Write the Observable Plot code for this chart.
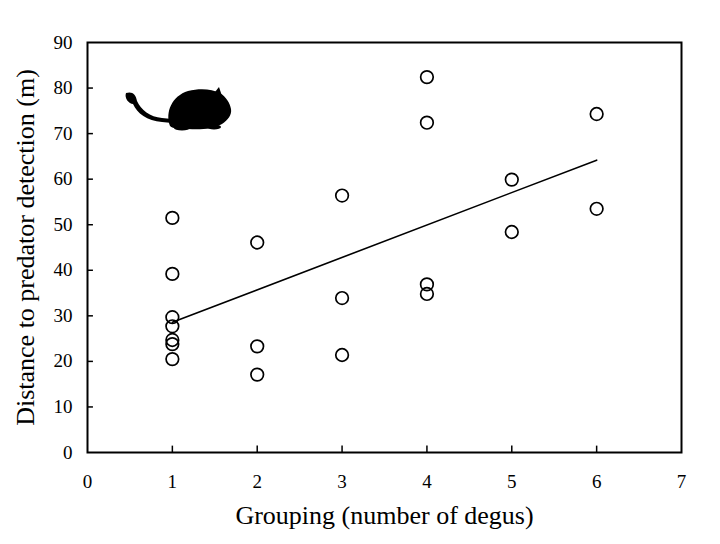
<!DOCTYPE html>
<html>
<head>
<meta charset="utf-8">
<script src="https://cdn.jsdelivr.net/npm/d3@7"></script>
<script src="https://cdn.jsdelivr.net/npm/@observablehq/plot@0.6"></script>
<style>
  html, body { margin: 0; padding: 0; background: #fff; }
  #wrap { position: relative; width: 720px; height: 544px; }
  #degu { position: absolute; left: 0; top: 0; pointer-events: none; }
</style>
</head>
<body>
<div id="wrap"><div id="chart"></div>
<svg id="degu" width="720" height="544" viewBox="0 0 720 544">
  <g fill="#000">
    <path d="M126,93 C124,98 129,104 133,104 C137,113 147,121 162,122 L172,123 L172,119 L162,118 C150,117 141,110 137,101 C136,94 132,91 126,93 Z"/>
    <path d="M170,126 C165,112 172,96 188,91 C200,88 212,89 220,93 C226,97 230,103 231,109 C232,115 228,120 222,124 C214,129 200,130 188,129 C180,129 173,129 170,126 Z"/>
    <path d="M215,92 L219,87 L222,96 Z"/>
    <ellipse cx="182" cy="128" rx="8" ry="2.5"/>
    <ellipse cx="214" cy="127" rx="7" ry="2.5"/>
  </g>
</svg>
</div>
<script>
const groupSize = [1,1,1,1,1,1,1, 2,2,2, 3,3,3, 4,4,4,4, 5,5, 6,6];
const distance  = [51.5,39.2,29.7,27.7,24.7,23.8,20.5, 46.1,23.3,17.1, 56.4,33.9,21.4, 82.4,72.4,36.9,34.8, 59.9,48.4, 74.3,53.5];
const xTicks = [0,1,2,3,4,5,6,7];
const yTicks = [0,10,20,30,40,50,60,70,80,90];
const xLabel = "Grouping (number of degus)";
const yLabel = "Distance to predator detection (m)";

const data = groupSize.map((g, i) => ({g, d: distance[i]}));
const font = "'Liberation Serif', 'Times New Roman', serif";

const chart = Plot.plot({
  width: 720,
  height: 544,
  marginLeft: 87,
  marginRight: 39,
  marginTop: 42,
  marginBottom: 92,
  style: {fontFamily: font, fontSize: "19px", color: "#000", background: "#fff"},
  x: {domain: [0, 7]},
  y: {domain: [0, 90]},
  marks: [
    Plot.frame({stroke: "#000", strokeWidth: 2}),
    Plot.axisX({ticks: xTicks, tickSize: 0, tickPadding: 22, tickFormat: d => d, label: null, fontSize: 19}),
    Plot.axisY({ticks: yTicks, tickSize: 0, tickPadding: 15, tickFormat: d => d, label: null, fontSize: 19}),
    Plot.ruleX(xTicks.slice(1, -1), {y1: 0, y2: 1.4, stroke: "#000", strokeWidth: 1.5}),
    Plot.ruleY(yTicks.slice(1, -1), {x1: 0, x2: 0.07, stroke: "#000", strokeWidth: 1.5}),
    Plot.linearRegressionY(data, {x: "g", y: "d", ci: 0, stroke: "#000", strokeWidth: 1.6}),
    Plot.dot(data, {x: "g", y: "d", r: 6.3, stroke: "#000", strokeWidth: 1.7, fill: "none"}),
    Plot.text([xLabel], {frameAnchor: "bottom", dy: 71, fontSize: 26, fill: "#000", textAnchor: "middle"}),
    Plot.text([yLabel], {frameAnchor: "left", dx: -62, rotate: -90, fontSize: 26, fill: "#000", textAnchor: "middle"})
  ]
});
document.getElementById("chart").appendChild(chart);
</script>
</body>
</html>
